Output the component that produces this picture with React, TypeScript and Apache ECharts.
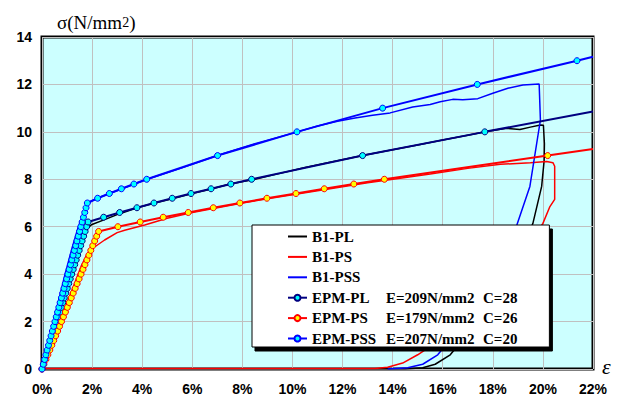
import React, { useEffect, useRef } from "react";
import * as echarts from "echarts";

// strain (%) , stress (N/mm2)
const b1Pl = [[0,0],[0.5,1.9],[1.0,3.8],[1.2,4.5],[1.37,5.2],[1.5,5.55],[1.64,5.79],[1.97,6.08],[2.5,6.3],[3.1,6.55],[3.8,6.8],[4.5,7.0],[5.2,7.18],[6.0,7.4],[6.8,7.6],[7.5,7.8],[8.4,7.98],[9.5,8.25],[10.5,8.5],[11.5,8.72],[12.8,9.0],[14.0,9.25],[15.0,9.45],[16.0,9.66],[17.0,9.86],[17.7,10.0],[18.55,10.15],[19.08,10.1],[19.5,10.2],[19.9,10.29],[20.02,10.28],[20.06,9.5],[20.05,8.8],[19.95,7.7],[19.6,6.14],[19.0,4.6],[18.0,3.0],[17.0,1.5],[16.3,0.6],[15.7,0.2],[15.2,0.05],[14.5,0],[0,0]];
const b1Ps = [[0,0],[0.5,1.4],[1.0,2.8],[1.3,3.6],[1.57,4.35],[1.8,4.85],[1.97,5.05],[2.5,5.44],[3.0,5.75],[3.3,5.85],[4.1,6.07],[5.0,6.36],[6.0,6.6],[7.0,6.8],[8.0,7.0],[9.0,7.18],[10.0,7.35],[11.0,7.52],[12.0,7.68],[13.0,7.85],[14.3,8.04],[15.5,8.22],[17.0,8.46],[18.3,8.63],[19.5,8.7],[20.15,8.75],[20.4,8.7],[20.47,8.55],[20.47,7.15],[20.28,6.85],[20.0,6.14],[19.0,4.6],[17.5,2.8],[16.0,1.3],[15.0,0.6],[14.4,0.25],[13.8,0.07],[13.3,0.02],[0,0.02]];
const b1Pss = [[0,0],[0.5,2.2],[0.92,4.0],[1.2,5.1],[1.45,6.0],[1.65,6.57],[1.81,6.99],[2.2,7.2],[3.2,7.6],[4.2,8.0],[5.5,8.45],[7.0,9.0],[8.5,9.5],[10.2,10.0],[11.0,10.25],[11.8,10.45],[12.5,10.58],[13.2,10.7],[13.9,10.8],[14.8,11.05],[15.5,11.15],[15.9,11.27],[16.4,11.37],[16.8,11.35],[17.4,11.4],[18.0,11.63],[18.6,11.84],[19.2,11.98],[19.85,12.02],[19.9,10.5],[19.48,7.7],[18.97,6.1],[17.5,3.2],[16.5,1.5],[15.8,0.6],[15.2,0.2],[14.6,0.05],[13.8,0]];

const epmPl = [[0,0],[0.059,0.2],[0.119,0.4],[0.178,0.6],[0.237,0.8],[0.297,1.0],[0.356,1.2],[0.415,1.4],[0.475,1.6],[0.534,1.8],[0.594,2.0],[0.653,2.2],[0.712,2.4],[0.772,2.6],[0.831,2.8],[0.89,3.0],[0.95,3.2],[1.009,3.4],[1.068,3.6],[1.128,3.8],[1.187,4.0],[1.246,4.2],[1.306,4.4],[1.365,4.6],[1.424,4.8],[1.484,5.0],[1.543,5.2],[1.602,5.4],[1.662,5.6],[1.721,5.8],[1.781,6.0],[1.84,6.2],[2.46,6.4],[3.1,6.6],[3.79,6.8],[4.47,7.0],[5.2,7.2],[5.95,7.4],[6.75,7.6],[7.54,7.8],[8.37,8.0],[12.8,9.0],[17.68,10.0]];
const epmPlEnd = [22, 10.86];
const epmPs = [[0,0],[0.078,0.2],[0.156,0.4],[0.234,0.6],[0.312,0.8],[0.39,1.0],[0.468,1.2],[0.546,1.4],[0.624,1.6],[0.701,1.8],[0.779,2.0],[0.857,2.2],[0.935,2.4],[1.013,2.6],[1.091,2.8],[1.169,3.0],[1.247,3.2],[1.325,3.4],[1.403,3.6],[1.481,3.8],[1.559,4.0],[1.637,4.2],[1.715,4.4],[1.793,4.6],[1.871,4.8],[1.948,5.0],[2.026,5.2],[2.104,5.4],[2.182,5.6],[2.26,5.8],[3.03,6.0],[3.92,6.2],[4.84,6.4],[5.84,6.6],[6.84,6.8],[7.9,7.0],[8.98,7.2],[10.14,7.4],[11.27,7.6],[12.45,7.8],[13.67,8.0],[20.19,9.0]];
const epmPsEnd = [22, 9.28];
const epmPss = [[0,0],[0.052,0.2],[0.103,0.4],[0.155,0.6],[0.207,0.8],[0.259,1.0],[0.31,1.2],[0.362,1.4],[0.414,1.6],[0.465,1.8],[0.517,2.0],[0.569,2.2],[0.621,2.4],[0.672,2.6],[0.724,2.8],[0.776,3.0],[0.827,3.2],[0.879,3.4],[0.931,3.6],[0.983,3.8],[1.034,4.0],[1.086,4.2],[1.138,4.4],[1.189,4.6],[1.241,4.8],[1.293,5.0],[1.345,5.2],[1.396,5.4],[1.448,5.6],[1.5,5.8],[1.551,6.0],[1.603,6.2],[1.655,6.4],[1.707,6.6],[1.758,6.8],[1.81,7.0],[2.22,7.2],[2.69,7.4],[3.17,7.6],[3.67,7.8],[4.18,8.0],[7.01,9.0],[10.18,10.0],[13.6,11.0],[17.38,12.0],[21.36,13.0]];
const epmPssEnd = [22, 13.17];

const expNames = ["B1-PL", "B1-PS", "B1-PSS"];
const epmNames = ["EPM-PL", "EPM-PS", "EPM-PSS"];
const epmModulus: Record<string, number> = { "EPM-PL": 209, "EPM-PS": 179, "EPM-PSS": 207 };
const epmC: Record<string, number> = { "EPM-PL": 28, "EPM-PS": 26, "EPM-PSS": 20 };

const serifBold = { fontFamily: "'Liberation Serif', 'Times New Roman', serif", fontWeight: "bold" as const, fontSize: 15, color: "#000", lineHeight: 14 };
const axisFont = { fontFamily: "'Liberation Sans Narrow', 'Arial Narrow', 'Liberation Sans', Arial, sans-serif", fontWeight: "bold" as const, fontSize: 14, color: "#000" };

function withEnd(points: number[][], end: number[]) {
  return points.map((p) => ({ value: p })).concat([{ value: end, symbol: "none" } as any]);
}

export default function App() {
  const ref = useRef<HTMLDivElement>(null);
  useEffect(() => {
    document.body.style.margin = "0";
    const chart = echarts.init(ref.current!, null, { renderer: "svg" });
    const expLine = (name: string, data: number[][], color: string) => ({
      name, type: "line", data, symbol: "none", lineStyle: { color, width: 1.5 }, itemStyle: { color }, z: 2,
    });
    const epmLine = (name: string, data: any[], line: string, fill: string) => ({
      name, type: "line", data, symbol: "circle", symbolSize: 6, showAllSymbol: true,
      lineStyle: { color: line, width: 2 }, itemStyle: { color: fill, borderColor: line, borderWidth: 1 }, z: 3,
    });
    chart.setOption({
      animation: false,
      grid: { left: 42, right: 28, top: 37, bottom: 30, show: true, backgroundColor: "#CCFFFF", borderColor: "#000", borderWidth: 3 },
      xAxis: {
        type: "value", min: 0, max: 22, interval: 2,
        axisLine: { show: false }, axisTick: { show: false },
        axisLabel: { ...axisFont, margin: 13, formatter: "{value}%" },
        splitLine: { show: true, lineStyle: { color: "#C0C0C0", width: 1 } },
      },
      yAxis: {
        type: "value", min: 0, max: 14, interval: 2,
        axisLine: { show: false }, axisTick: { show: false },
        axisLabel: { ...axisFont, margin: 10 },
        splitLine: { show: true, lineStyle: { color: "#C0C0C0", width: 1 } },
      },
      legend: {
        data: [
          ...expNames.map((n) => ({ name: n, itemStyle: { opacity: 0, borderWidth: 0 }, lineStyle: { width: 2 } })),
          ...epmNames.map((n) => ({ name: n, lineStyle: { width: 2 } })),
        ],
        orient: "vertical", left: 252, top: 225,
        padding: [4, 32, 1, 35], itemWidth: 19, itemHeight: 7.5, itemGap: 5.4,
        backgroundColor: "#fff", borderColor: "#000", borderWidth: 1,
        shadowColor: "#000", shadowBlur: 0, shadowOffsetX: 3, shadowOffsetY: 4,
        textStyle: { ...serifBold, rich: { a: { ...serifBold, width: 74 }, b: { ...serifBold, width: 97 }, c: { ...serifBold } } },
        formatter: (name: string) => epmModulus[name] !== undefined
          ? `{a|${name}}{b|E=${epmModulus[name]}N/mm2}{c|C=${epmC[name]}}`
          : `{a|${name}}`,
      },
      graphic: [
        {
          type: "text", x: 57, y: 22,
          style: {
            text: "{s|σ}{p|(N/mm}{t|2}{p|)}", align: "left", verticalAlign: "middle",
            rich: {
              s: { fontFamily: "'Liberation Serif', serif", fontSize: 19, fill: "#000" },
              p: { fontFamily: "'Liberation Serif', serif", fontSize: 19, fill: "#000" },
              t: { fontFamily: "'Liberation Serif', serif", fontSize: 14, fill: "#000" },
            },
          },
        },
        {
          type: "text", x: 602, y: 366,
          style: { text: "ε", align: "left", verticalAlign: "middle", fontFamily: "'Liberation Serif', serif", fontStyle: "italic", fontSize: 22, fill: "#000" },
        },
      ],
      series: [
        expLine("B1-PL", b1Pl, "#000000"),
        expLine("B1-PS", b1Ps, "#FF0000"),
        expLine("B1-PSS", b1Pss, "#0000FF"),
        epmLine("EPM-PL", withEnd(epmPl, epmPlEnd), "#000080", "#00FFFF"),
        epmLine("EPM-PS", withEnd(epmPs, epmPsEnd), "#FF0000", "#FFFF00"),
        epmLine("EPM-PSS", withEnd(epmPss, epmPssEnd), "#0000FF", "#00FFFF"),
      ],
    });
    return () => chart.dispose();
  }, []);
  return <div ref={ref} style={{ width: 621, height: 399 }} />;
}
